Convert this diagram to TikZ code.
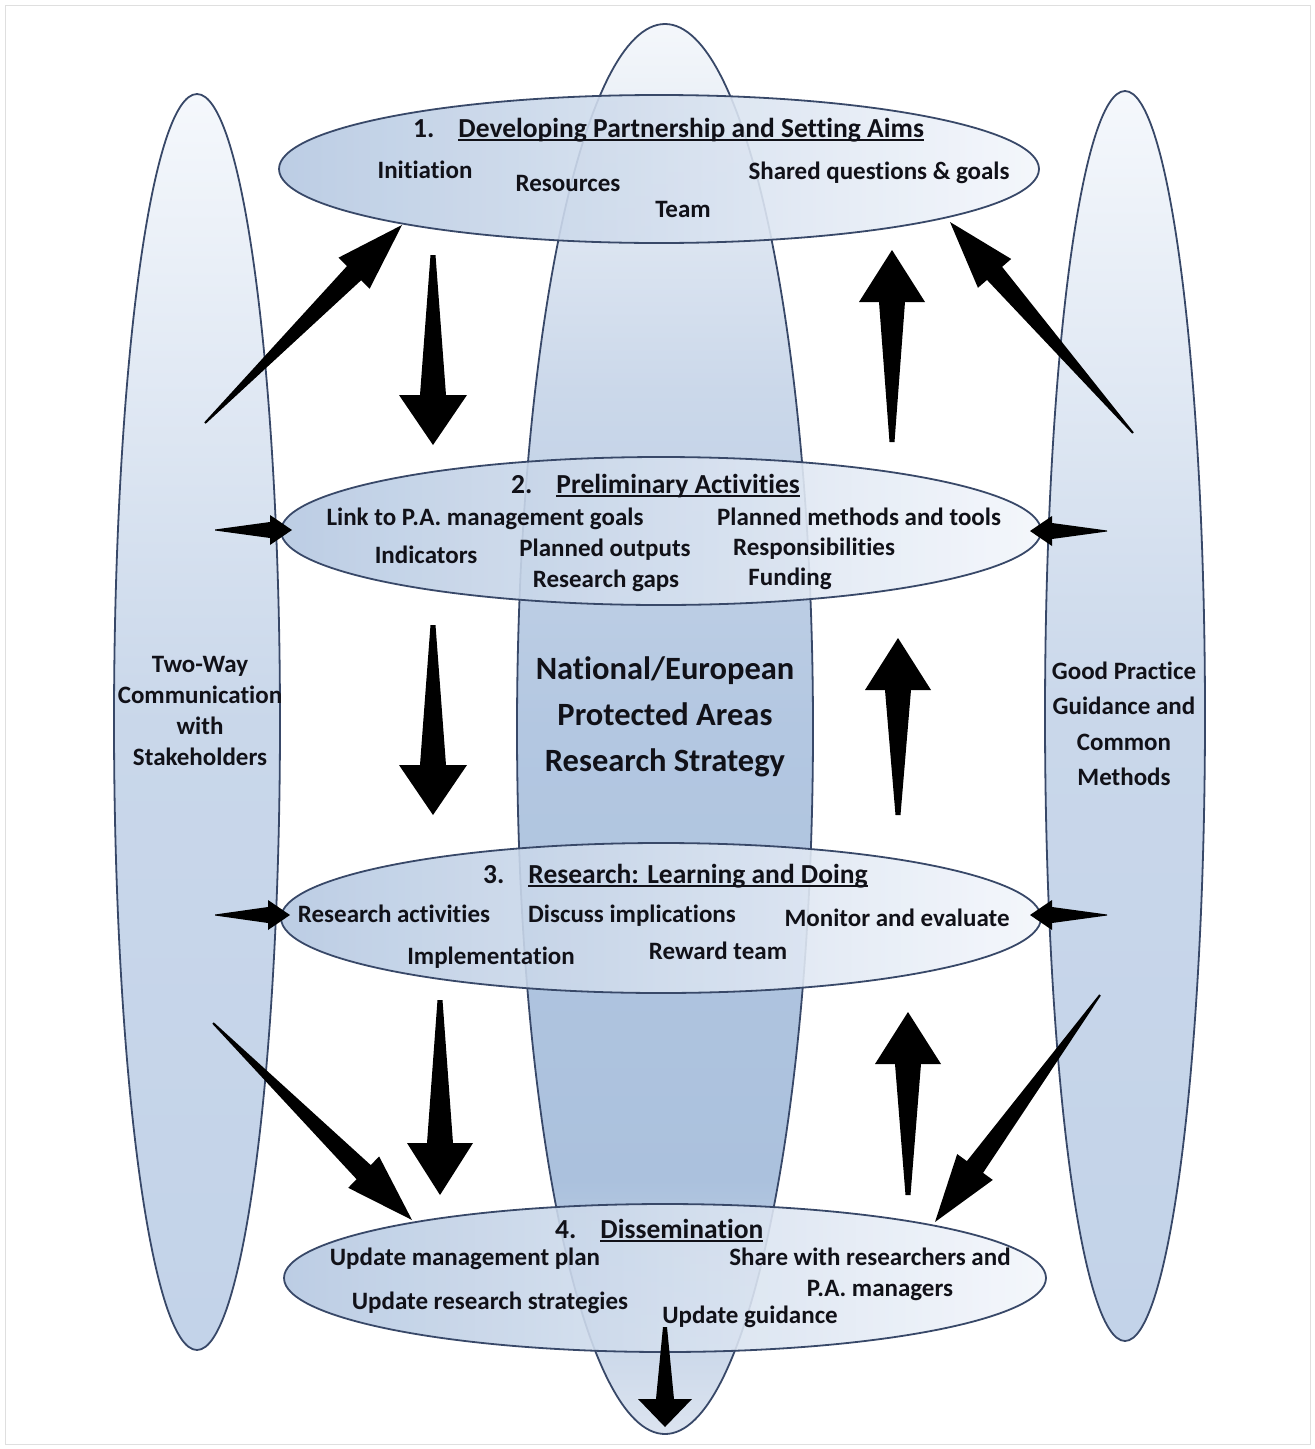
\documentclass[tikz,border=0pt]{standalone}
\usepackage{fontspec}
\setmainfont[Ligatures={NoCommon}]{Carlito}
\usetikzlibrary{shapes.geometric,calc}
\definecolor{edgec}{HTML}{384868}
\definecolor{txtc}{HTML}{111118}
\definecolor{hleft}{HTML}{B5C8E1}
\definecolor{hright}{HTML}{F3F6FB}
\definecolor{vtop}{HTML}{F5F8FC}
\definecolor{vmid}{HTML}{C9D7EA}
\definecolor{vbot}{HTML}{C3D3E9}
\definecolor{ctop}{HTML}{F4F7FB}
\definecolor{cupper}{HTML}{CBD8EA}
\definecolor{cmid}{HTML}{B3C7E1}
\definecolor{clow}{HTML}{ABC1DD}
\definecolor{cbot}{HTML}{DCE4F0}
\pgfdeclareverticalshading{censhade}{100bp}{color(0bp)=(cbot); color(25bp)=(cbot); color(34bp)=(clow); color(50bp)=(cmid); color(62bp)=(cupper); color(75bp)=(ctop); color(100bp)=(ctop)}
\newcommand{\myul}[1]{\setbox0=\hbox{#1}\rlap{\rule[-3.5pt]{\wd0}{1.6pt}}\box0}
\newcommand{\blockarrow}[6]{%
  \coordinate (hb) at ($(#2)!#6!(#1)$);
  \fill[black] ($(#1)!#3!90:(#2)$) -- ($(hb)!#4!90:(#2)$) -- ($(hb)!#5!90:(#2)$) -- (#2)
    -- ($(hb)!#5!-90:(#2)$) -- ($(hb)!#4!-90:(#2)$) -- ($(#1)!#3!-90:(#2)$) -- cycle;
}
\tikzset{
  vell/.style={ellipse, draw=edgec, line width=1.8pt, inner sep=0pt},
  hell/.style={ellipse, draw=edgec, line width=1.8pt, inner sep=0pt, left color=hleft, right color=hright, fill opacity=0.9, minimum width=760pt, minimum height=148pt},
  itm/.style={font=\bfseries\fontsize{25}{28}\selectfont, text=txtc, anchor=base, inner sep=0pt},
  ttl/.style={font=\bfseries\fontsize{27.5}{30}\selectfont, text=txtc, anchor=base west, inner sep=0pt},
  sidetxt/.style={font=\bfseries\fontsize{25}{31}\selectfont, text=txtc, align=center, inner sep=0pt},
}
\begin{document}
\begin{tikzpicture}[x=1pt,y=-1pt]
\useasboundingbox (0,0) rectangle (1315,1449);
\draw[gray!25, line width=0.6pt] (5,5) rectangle (1310,1444);

% vertical ellipses
\node[vell, shading=censhade, minimum width=296pt, minimum height=1410pt] (cen) at (665,729) {};
\node[vell, top color=vtop, bottom color=vbot, middle color=vmid, minimum width=166pt, minimum height=1256pt] (lft) at (197,722) {};
\node[vell, top color=vtop, bottom color=vbot, middle color=vmid, minimum width=160pt, minimum height=1250pt] (rgt) at (1125,716) {};

% horizontal ellipses
\node[hell] (e1) at (659,169) {};
\node[hell] (e2) at (661,531) {};
\node[hell, minimum height=150pt] (e3) at (661,918) {};
\node[hell, minimum width=762pt] (e4) at (665,1278) {};

% arrow end points
\coordinate (a12t) at (433,255);  \coordinate (a12h) at (433,445);
\coordinate (a23t) at (433,625);  \coordinate (a23h) at (433,815);
\coordinate (a34t) at (440,1000); \coordinate (a34h) at (440,1195);
\coordinate (a21t) at (892,442);  \coordinate (a21h) at (892,250);
\coordinate (a32t) at (898,815);  \coordinate (a32h) at (898,638);
\coordinate (a43t) at (908,1195); \coordinate (a43h) at (908,1012);
\coordinate (abt) at (665,1327);  \coordinate (abh) at (665,1427);
\coordinate (dl1t) at (205,423);  \coordinate (dl1h) at (402,225);
\coordinate (dr1t) at (1133,433); \coordinate (dr1h) at (950,222);
\coordinate (dl4t) at (213,1023); \coordinate (dl4h) at (412,1220);
\coordinate (dr4t) at (1100,995); \coordinate (dr4h) at (935,1222);
\coordinate (sl2t) at (215,530);  \coordinate (sl2h) at (292,530);
\coordinate (sl3t) at (215,915);  \coordinate (sl3h) at (290,915);
\coordinate (sr2t) at (1107,531); \coordinate (sr2h) at (1030,531);
\coordinate (sr3t) at (1107,915); \coordinate (sr3h) at (1030,915);

\blockarrow{a12t}{a12h}{2.5pt}{13pt}{34pt}{50pt}
\blockarrow{a23t}{a23h}{2.5pt}{13pt}{34pt}{50pt}
\blockarrow{a34t}{a34h}{2.5pt}{13pt}{33pt}{52pt}
\blockarrow{a21t}{a21h}{2.5pt}{13pt}{33pt}{52pt}
\blockarrow{a32t}{a32h}{2.5pt}{13pt}{33pt}{52pt}
\blockarrow{a43t}{a43h}{2.5pt}{13pt}{33pt}{52pt}
\blockarrow{abt}{abh}{2pt}{9pt}{27pt}{28pt}
\blockarrow{dl1t}{dl1h}{1pt}{10pt}{22pt}{68pt}
\blockarrow{dr1t}{dr1h}{1pt}{10pt}{22pt}{68pt}
\blockarrow{dl4t}{dl4h}{1pt}{10pt}{22pt}{68pt}
\blockarrow{dr4t}{dr4h}{1pt}{10pt}{22pt}{68pt}
\blockarrow{sl2t}{sl2h}{0.5pt}{8pt}{15pt}{22pt}
\blockarrow{sl3t}{sl3h}{0.5pt}{8pt}{15pt}{22pt}
\blockarrow{sr2t}{sr2h}{0.5pt}{8pt}{15pt}{22pt}
\blockarrow{sr3t}{sr3h}{0.5pt}{8pt}{15pt}{22pt}

% titles
\node[ttl] (t1) at (413,137) {1.\hspace{24pt}\myul{Developing Partnership and Setting Aims}};
\node[ttl] (t2) at (511,493) {2.\hspace{24pt}\myul{Preliminary Activities}};
\node[ttl] (t3) at (483,883) {3.\hspace{24pt}\myul{Research: Learning and Doing}};
\node[ttl] (t4) at (555,1238) {4.\hspace{24pt}\myul{Dissemination}};

% items
\node[itm] (i11) at (425,178) {Initiation};
\node[itm] (i12) at (568,191) {Resources};
\node[itm] (i13) at (683,217) {Team};
\node[itm] (i14) at (879,179) {Shared questions \& goals};

\node[itm] (i21) at (485,525) {Link to P.A. management goals};
\node[itm] (i22) at (859,525) {Planned methods and tools};
\node[itm] (i23) at (426,563) {Indicators};
\node[itm] (i24) at (605,556) {Planned outputs};
\node[itm] (i25) at (814,555) {Responsibilities};
\node[itm] (i26) at (606,587) {Research gaps};
\node[itm] (i27) at (790,585) {Funding};

\node[itm] (i31) at (394,922) {Research activities};
\node[itm] (i32) at (632,922) {Discuss implications};
\node[itm] (i33) at (897,926) {Monitor and evaluate};
\node[itm] (i34) at (491,964) {Implementation};
\node[itm] (i35) at (718,959) {Reward team};

\node[itm] (i41) at (465,1265) {Update management plan};
\node[itm] (i42) at (870,1265) {Share with researchers and};
\node[itm] (i43) at (880,1296) {P.A. managers};
\node[itm] (i44) at (490,1309) {Update research strategies};
\node[itm] (i45) at (750,1323) {Update guidance};

% side and central texts
\node[sidetxt] (ltx) at (200,711) {Two-Way\\Communication\\with\\Stakeholders};
\node[sidetxt, font=\bfseries\fontsize{25}{35.5}\selectfont] (rtx) at (1124,724) {Good Practice\\Guidance and\\Common\\Methods};
\node[sidetxt, font=\bfseries\fontsize{32.5}{46}\selectfont] (ctx) at (665,717) {National/European\\Protected Areas\\Research Strategy};
\end{tikzpicture}
\end{document}
